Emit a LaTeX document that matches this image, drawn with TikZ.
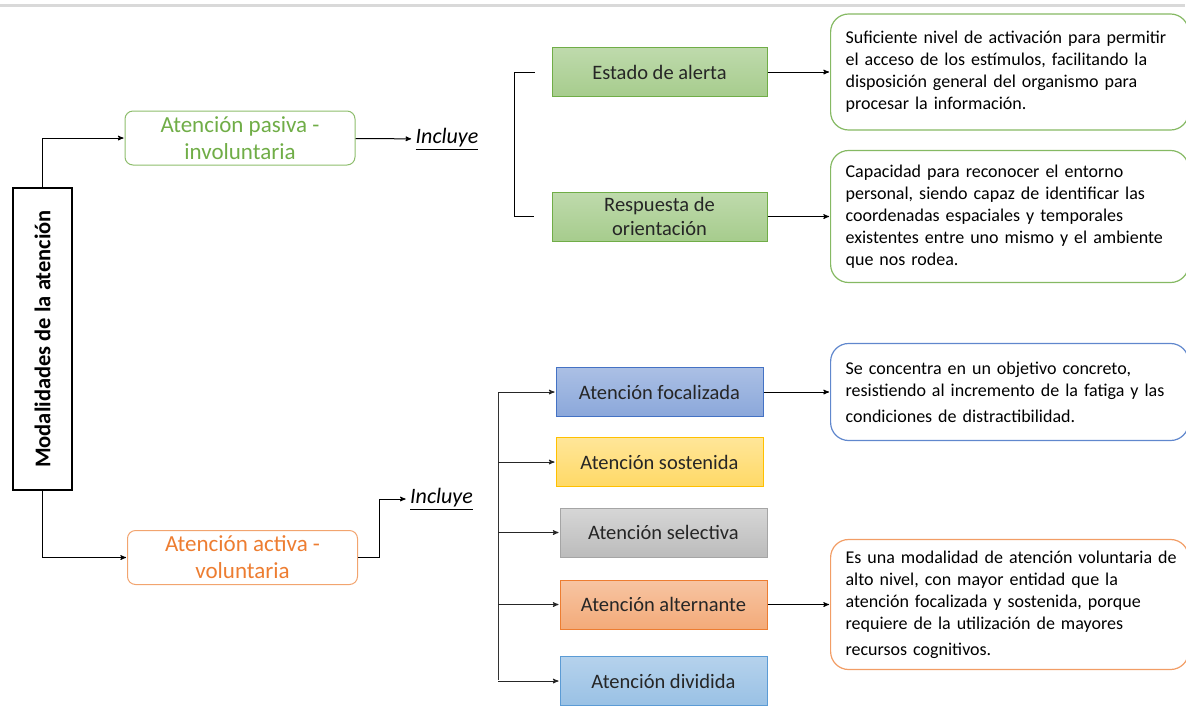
\documentclass[tikz,border=0pt]{standalone}
\usepackage{fontspec}
\setmainfont{Carlito}
\usetikzlibrary{arrows,positioning}

\definecolor{verde}{HTML}{70AD47}
\definecolor{naranja}{HTML}{ED7D31}
\definecolor{azul}{HTML}{4472C4}
\definecolor{amarillo}{HTML}{FFC000}
\definecolor{gris}{HTML}{A5A5A5}
\definecolor{celeste}{HTML}{5B9BD5}

\begin{document}
\begin{tikzpicture}[->,>=stealth',shorten >=1pt,line width=1pt,x=1pt,y=-1pt,
    caja/.style={rectangle,draw,minimum width=207pt,minimum height=49pt,align=center,
                 text=black!85,line width=1pt,font=\fontsize{20.5}{24}\selectfont},
    modo/.style={rectangle,draw,rounded corners=8pt,minimum width=230pt,minimum height=54pt,
                 align=center,line width=1pt,font=\fontsize{23}{27}\selectfont},
    desc/.style={rectangle,draw,rounded corners=18pt,anchor=west,align=left,text width=328pt,
                 inner xsep=15pt,line width=1.2pt,font=\fontsize{18}{22}\selectfont},
    incl/.style={inner sep=3pt,font=\fontsize{22}{26}\selectfont\itshape}]

  \useasboundingbox (0,0) rectangle (1186,705);
  \clip (0,0) rectangle (1186,705);
  \draw[-,line width=3pt,black!15] (0,5) -- (1186,5);

  % eje principal
  \node[rectangle,draw,rotate=90,minimum width=302pt,minimum height=59pt,line width=1.2pt,
        font=\bfseries\fontsize{22.5}{26}\selectfont] (modal) at (42.5,339) {Modalidades de la atención};

  \node[modo,draw=verde!80,text=verde]      (pasiva) at (240,138)   {Atención pasiva -\\involuntaria};
  \node[modo,draw=naranja!70,text=naranja]  (activa) at (242.5,557.5) {Atención activa -\\voluntaria};

  \node[incl] (incluye1) at (447,139)   {\underline{Incluye}};
  \node[incl] (incluye2) at (441.5,499) {\underline{Incluye}};

  % atencion pasiva
  \node[caja,minimum width=215pt,draw=verde,top color=verde!45,bottom color=verde!62] (alerta)    at (659.5,72)    {Estado de alerta};
  \node[caja,minimum width=215pt,draw=verde,top color=verde!45,bottom color=verde!62] (respuesta) at (659.5,216.5) {Respuesta de\\orientación};

  % atencion activa
  \node[caja,draw=azul,top color=azul!45,bottom color=azul!62]             (focal)  at (659.5,392)   {Atención focalizada};
  \node[caja,draw=amarillo,top color=amarillo!40,bottom color=amarillo!60] (sost)   at (659.5,462)   {Atención sostenida};
  \node[caja,draw=gris,top color=gris!45,bottom color=gris!75]             (selec)  at (663.5,532.5) {Atención selectiva};
  \node[caja,draw=naranja,top color=naranja!45,bottom color=naranja!65]    (altern) at (663.5,604.5) {Atención alternante};
  \node[caja,draw=celeste,top color=celeste!45,bottom color=celeste!62]    (divid)  at (663.5,681)   {Atención dividida};

  % descripciones
  \node[desc,draw=verde!85,minimum height=116pt] (d1) at (830,72)
    {\mbox{Suficiente nivel de activación para permitir}\\el acceso de los estímulos, facilitando la\\disposición general del organismo para\\procesar la información.};
  \node[desc,draw=verde!85,minimum height=132pt] (d2) at (830,216.5)
    {Capacidad para reconocer el entorno\\personal, siendo capaz de identificar las\\coordenadas espaciales y temporales\\\mbox{existentes entre uno mismo y el ambiente}\\que nos rodea.};
  \node[desc,draw=azul!85,minimum height=97pt] (d3) at (830,392)
    {Se concentra en un objetivo concreto,\\\mbox{resistiendo al incremento de la fatiga y las}\\[4pt]condiciones de distractibilidad.};
  \node[desc,draw=naranja!75,minimum height=130pt] (d4) at (830,604.5)
    {\mbox{Es una modalidad de atención voluntaria de}\\alto nivel, con mayor entidad que la\\atención focalizada y sostenida, porque\\requiere de la utilización de mayores\\[4pt]recursos cognitivos.};

  % conectores
  \draw (modal.east) |- (pasiva.west);
  \draw (modal.west) |- (activa.west);
  \draw (pasiva) -- (incluye1);
  \draw (activa.east) -- ++(21,0) |- (incluye2.west);

  \draw[-] ([xshift=-17pt]alerta.west) -- ++(-20,0) |- ([xshift=-17pt]respuesta.west);

  \coordinate (eje) at (498,499);
  \draw[-,black!80] (eje |- focal.west) -- (eje |- divid.west);
  \foreach \n in {focal,sost,selec,altern,divid}
    \draw[black!85] (eje |- \n.west) -- (\n.west);

  \draw (alerta) -- (d1);
  \draw (respuesta) -- (d2);
  \draw (focal) -- (d3);
  \draw (altern) -- (d4);
\end{tikzpicture}
\end{document}
